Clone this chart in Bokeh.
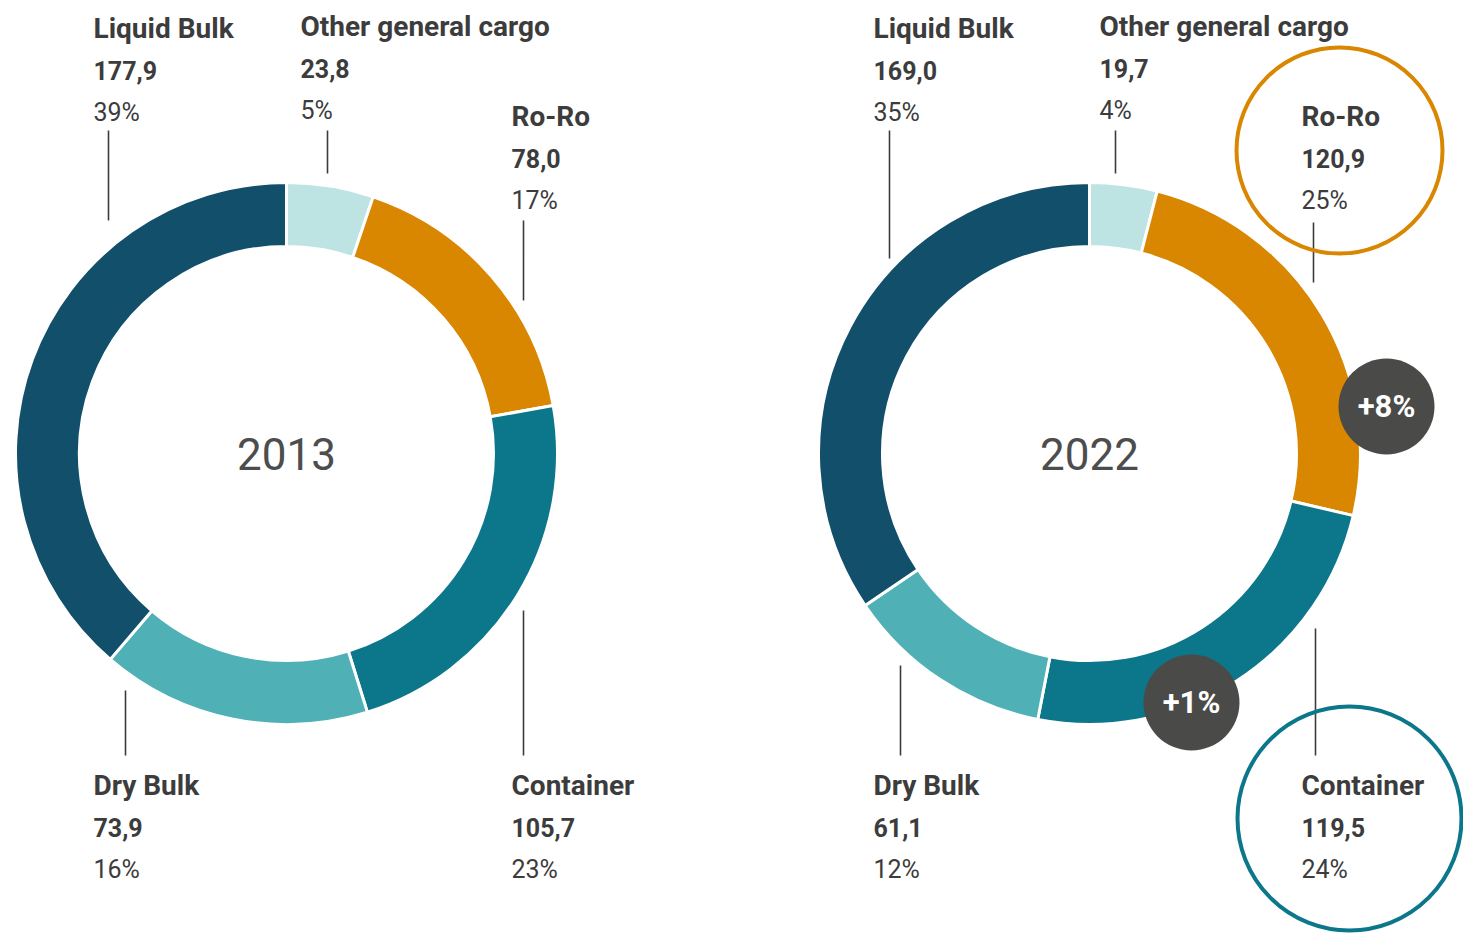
import math
from bokeh.plotting import figure
from bokeh.models import Range1d, ColumnDataSource
from bokeh.core.properties import value
from bokeh.embed import file_html
from bokeh.resources import INLINE

# ---------------- data ----------------
categories = ["Other general cargo", "Ro-Ro", "Container", "Dry Bulk", "Liquid Bulk"]
years = ["2013", "2022"]
values_2013 = [23.8, 78.0, 105.7, 73.9, 177.9]
values_2022 = [19.7, 120.9, 119.5, 61.1, 169.0]
shares_2013 = ["5%", "17%", "23%", "16%", "39%"]
shares_2022 = ["4%", "25%", "24%", "12%", "35%"]
change_labels = ["+8%", "+1%"]
change_categories = ["Ro-Ro", "Container"]

colors = ["#bde3e3", "#d98600", "#0c778a", "#4fb0b6", "#124f6a"]
TEXT = "#3c3c3c"
FONT = value("Roboto")

# ---------------- layout ----------------
W, H = 1463, 933
IMG_H = 933


def Y(y):
    return IMG_H - y


p = figure(width=W, height=H, x_range=Range1d(0, W),
           y_range=Range1d(IMG_H - H, IMG_H),
           output_backend="svg", toolbar_location=None, min_border=0,
           x_axis_type=None, y_axis_type=None)
p.grid.visible = False
p.outline_line_color = None
p.background_fill_color = "white"
p.border_fill_color = "white"

centers = [(286, 453), (1089, 453)]
R_OUT, R_IN = 271, 207

# label placement per chart (text x, name baseline, leader x, leader y0, leader y1)
label_pos = [
    {"Other general cargo": (300, 26, 327, 130, 173),
     "Ro-Ro": (511, 116, 523, 220, 300),
     "Container": (511, 785, 523, 610, 755),
     "Dry Bulk": (93, 785, 125, 690, 755),
     "Liquid Bulk": (93, 28, 108, 130, 220)},
    {"Other general cargo": (1099, 26, 1115, 130, 173),
     "Ro-Ro": (1301, 116, 1313, 222, 282),
     "Container": (1301, 785, 1315, 628, 755),
     "Dry Bulk": (873, 785, 900, 665, 755),
     "Liquid Bulk": (873, 28, 889, 130, 258)},
]

for (cx, cy), year, vals, shares, pos in zip(centers, years,
                                              [values_2013, values_2022],
                                              [shares_2013, shares_2022],
                                              label_pos):
    total = sum(vals)
    starts, ends = [], []
    cum = 0.0
    for v in vals:
        starts.append(math.pi / 2 - 2 * math.pi * cum / total)
        cum += v
        ends.append(math.pi / 2 - 2 * math.pi * cum / total)
    src = ColumnDataSource(dict(x=[cx] * len(vals), y=[Y(cy)] * len(vals),
                                start=starts, end=ends, color=colors))
    p.annular_wedge(x="x", y="y", inner_radius=R_IN, outer_radius=R_OUT,
                    start_angle="start", end_angle="end", direction="clock",
                    fill_color="color", line_color="white", line_width=3,
                    source=src)
    p.text(x=[cx], y=[Y(cy)], text=[year], text_font=FONT,
           text_font_size="44px", text_color="#4d4d4d",
           text_align="center", text_baseline="middle")

    names, nx, ny, vx, vy, vt, sx, sy, st = [], [], [], [], [], [], [], [], []
    lx, ly0, ly1 = [], [], []
    for cat, v, s in zip(categories, vals, shares):
        tx, base, lxx, y0, y1 = pos[cat]
        names.append(cat); nx.append(tx); ny.append(Y(base))
        vx.append(tx); vy.append(Y(base + 42)); vt.append(f"{v:.1f}".replace(".", ","))
        sx.append(tx); sy.append(Y(base + 84)); st.append(s)
        lx.append(lxx); ly0.append(Y(y0)); ly1.append(Y(y1))
    p.segment(x0=lx, y0=ly0, x1=lx, y1=ly1, line_color=TEXT, line_width=1.6)
    p.text(x=nx, y=ny, text=names, text_font=FONT, text_font_style="bold",
           text_font_size="28px", text_color=TEXT, text_baseline="alphabetic")
    p.text(x=vx, y=vy, text=vt, text_font=FONT, text_font_style="bold",
           text_font_size="25px", text_color=TEXT, text_baseline="alphabetic")
    p.text(x=sx, y=sy, text=st, text_font=FONT,
           text_font_size="25px", text_color=TEXT, text_baseline="alphabetic")

# highlight rings on 2022 labels
p.circle(x=[1339], y=[Y(150)], radius=103, fill_color=None,
         line_color=colors[1], line_width=4)
p.circle(x=[1349], y=[Y(818)], radius=112, fill_color=None,
         line_color=colors[2], line_width=4)

# change badges
badge_x = [1386, 1191]
badge_y = [Y(406), Y(702)]
p.circle(x=badge_x, y=badge_y, radius=48, fill_color="#4a4a48", line_color=None)
p.text(x=badge_x, y=badge_y, text=change_labels, text_font=FONT,
       text_font_style="bold", text_font_size="31px", text_color="white",
       text_align="center", text_baseline="middle")

open("out.html", "w").write(file_html(p, INLINE))
